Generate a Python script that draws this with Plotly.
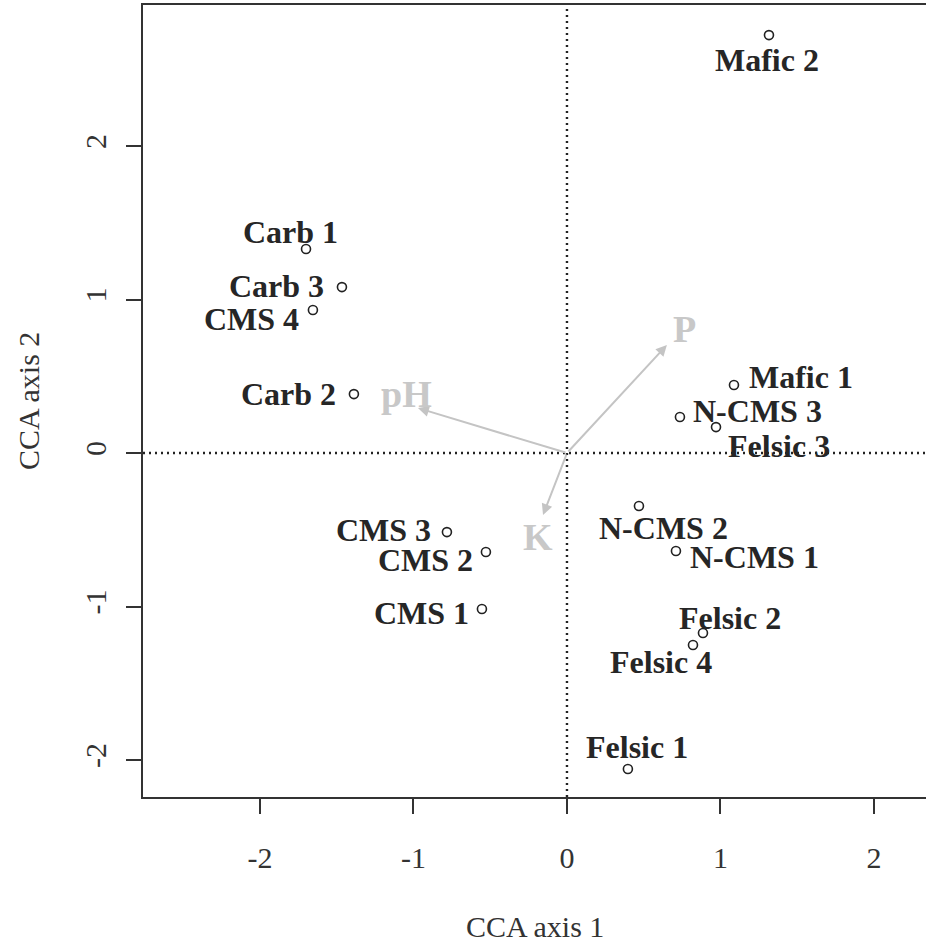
import plotly.graph_objects as go

# ---- data ----
site_names = ["Mafic 2", "Carb 1", "Carb 3", "CMS 4", "Carb 2", "Mafic 1", "N-CMS 3",
              "Felsic 3", "N-CMS 2", "N-CMS 1", "Felsic 2", "Felsic 4", "Felsic 1",
              "CMS 3", "CMS 2", "CMS 1"]
site_axis1 = [1.316, -1.700, -1.466, -1.655, -1.388, 1.088, 0.736,
              0.971, 0.469, 0.710, 0.886, 0.821, 0.397,
              -0.782, -0.528, -0.554]
site_axis2 = [2.723, 1.329, 1.081, 0.932, 0.384, 0.443, 0.235,
              0.169, -0.345, -0.638, -1.173, -1.251, -2.059,
              -0.515, -0.645, -1.016]

env_names = ["pH", "P", "K"]
env_axis1 = [-0.971, 0.651, -0.156]
env_axis2 = [0.293, 0.704, -0.404]

tick_values = [-2, -1, 0, 1, 2]
tick_labels = ["-2", "-1", "0", "1", "2"]

# ---- styles (pixel offsets of labels) ----
site_label_shift = [(-2, -25), (-16, 17), (-65, 1), (-61, -9), (-65, 0), (67, 8), (78, 6),
                    (63, -19), (25, -22), (79, -6), (27, 15), (-32, -17), (9, 22),
                    (-63, 2), (-60, -8), (-60, -4)]
env_label_shift = [(-11, 14), (18, 16), (-5, -22)]

label_font = dict(family="Liberation Serif", size=32, color="#262626")
env_font = dict(family="Liberation Serif", size=38, color="#c8c8c8")
axis_font = dict(family="Liberation Serif", size=30, color="#333333")

fig = go.Figure()

# zero reference lines
fig.add_hline(y=0, line=dict(color="#222222", width=2.4, dash="2px,4px"))
fig.add_vline(x=0, line=dict(color="#222222", width=2.4, dash="2px,4px"))

# site points
fig.add_trace(go.Scatter(
    x=site_axis1, y=site_axis2, mode="markers",
    marker=dict(symbol="circle-open", size=9, color="#222222", line=dict(width=1.6)),
    hoverinfo="text", text=site_names, showlegend=False))

annotations = []
for name, xv, yv, (dx, dy) in zip(site_names, site_axis1, site_axis2, site_label_shift):
    annotations.append(dict(x=xv, y=yv, xref="x", yref="y", text="<b>%s</b>" % name,
                            showarrow=False, xshift=dx, yshift=dy,
                            xanchor="center", yanchor="middle", font=label_font))

# environmental vectors
for name, xv, yv, (dx, dy) in zip(env_names, env_axis1, env_axis2, env_label_shift):
    annotations.append(dict(x=xv, y=yv, xref="x", yref="y", ax=0, ay=0,
                            axref="x", ayref="y", text="", showarrow=True,
                            arrowhead=2, arrowsize=1.1, arrowwidth=2,
                            arrowcolor="#c4c4c4"))
    annotations.append(dict(x=xv, y=yv, xref="x", yref="y", text="<b>%s</b>" % name,
                            showarrow=False, xshift=dx, yshift=dy,
                            xanchor="center", yanchor="middle", font=env_font))

# axis titles
annotations.append(dict(x=0.5, y=0, xref="paper", yref="paper", text="CCA axis 1",
                        showarrow=False, yshift=-129, xanchor="center", yanchor="middle",
                        font=axis_font))
annotations.append(dict(x=0, y=0.5, xref="paper", yref="paper", text="CCA axis 2",
                        showarrow=False, xshift=-115, xanchor="center", yanchor="middle",
                        textangle=-90, font=axis_font))

fig.update_layout(
    width=926, height=943,
    margin=dict(l=143, r=0, t=5, b=146),
    paper_bgcolor="white", plot_bgcolor="white",
    annotations=annotations,
    xaxis=dict(range=[-2.762, 2.339], tickvals=tick_values, ticktext=tick_labels,
               showgrid=False, zeroline=False, showline=True, linecolor="#333333",
               linewidth=2, mirror=True, ticks="outside", ticklen=15, tickwidth=2,
               tickcolor="#333333", tickfont=axis_font, ticklabelstandoff=18),
    yaxis=dict(range=[-2.241, 2.919], tickvals=tick_values, ticktext=tick_labels,
               showgrid=False, zeroline=False, showline=True, linecolor="#333333",
               linewidth=2, ticks="outside", ticklen=15, tickwidth=2,
               tickcolor="#333333", tickfont=axis_font, tickangle=-90,
               ticklabelstandoff=8),
)

fig.write_html(
    "out.html",
    config={"displayModeBar": False},
    post_script="document.body.style.margin='0';document.body.style.overflow='hidden';",
)
